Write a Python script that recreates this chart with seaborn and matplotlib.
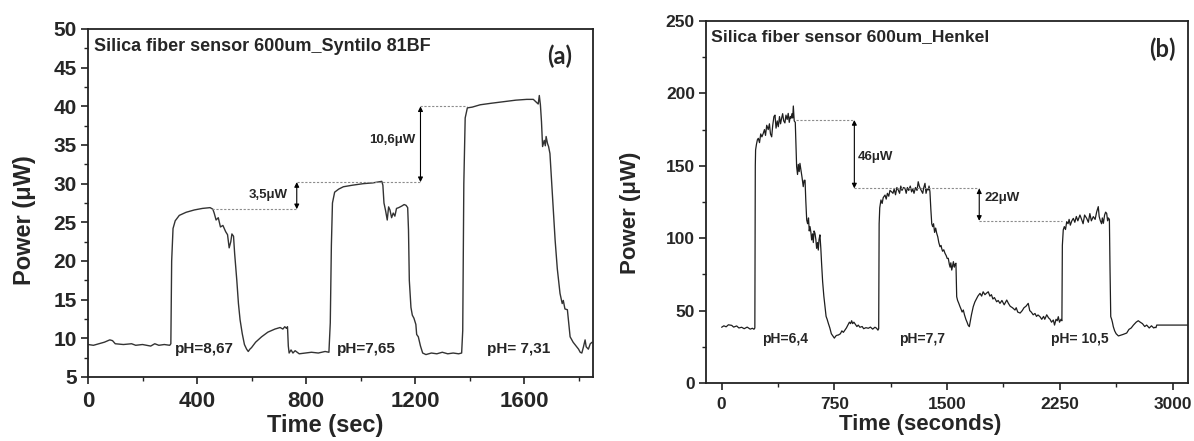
import matplotlib
matplotlib.use('Agg')
import matplotlib.pyplot as plt
from matplotlib import font_manager
from matplotlib.ticker import MultipleLocator
import pandas as pd
import seaborn as sns

# Panel (a): Syntilo 81BF, time (sec) vs power (uW)
time_a = [0, 20, 40, 60, 80, 90, 100, 130, 160, 175, 200, 230, 245, 260, 280, 300, 304,
          307, 312, 320, 335, 360, 390, 420, 448, 458, 463, 470, 478, 486, 495, 505, 512,
          518, 524, 528, 534, 538, 546, 552, 558, 566, 574, 582, 588, 594, 600, 615, 637,
          660, 686, 705, 715, 722, 728, 732, 735, 738, 745, 752, 760, 775, 796, 820, 845,
          870, 884, 889, 893, 897, 905, 920, 937, 970, 1010, 1045, 1078, 1082, 1086, 1092,
          1098, 1103, 1108, 1114, 1120, 1126, 1132, 1140, 1151, 1160, 1167, 1173, 1176,
          1179, 1185, 1190, 1196, 1203, 1206, 1212, 1220, 1228, 1240, 1260, 1280, 1300,
          1320, 1340, 1360, 1371, 1375, 1379, 1384, 1392, 1410, 1439, 1480, 1524, 1570,
          1610, 1634, 1646, 1652, 1656, 1660, 1664, 1668, 1674, 1678, 1681, 1686, 1690,
          1695, 1705, 1714, 1722, 1732, 1740, 1744, 1750, 1759, 1764, 1769, 1780, 1793,
          1800, 1806, 1812, 1818, 1824, 1828, 1836, 1843, 1850]
power_a = [9.2, 9.1, 9.3, 9.5, 9.8, 9.7, 9.3, 9.2, 9.3, 9.1, 9.2, 9.0, 9.3, 9.1, 9.2, 9.1, 9.3,
           20.0, 24.2, 25.2, 25.9, 26.3, 26.6, 26.8, 26.9, 26.7, 26.2, 25.3, 25.6, 24.4, 24.6,
           23.8, 23.4, 21.7, 22.5, 23.5, 23.2, 21.0, 17.5, 14.5, 12.4, 10.6, 9.2, 8.6, 8.3,
           8.6, 8.8, 9.5, 10.2, 10.8, 11.2, 11.4, 11.2, 11.5, 11.3, 11.5, 9.0, 8.1, 8.5, 8.1,
           8.4, 8.0, 8.1, 8.2, 8.1, 8.3, 8.2, 12.0, 22.0, 27.5, 28.9, 29.3, 29.6, 29.8, 30.0,
           30.1, 30.3, 29.8, 27.5, 26.5, 25.3, 27.0, 26.6, 25.6, 26.2, 25.8, 26.8, 26.9, 27.1,
           27.3, 27.2, 26.9, 24.0, 17.5, 14.0, 13.0, 12.6, 11.8, 10.5, 10.2, 9.0, 8.1, 7.9,
           8.1, 8.0, 8.2, 8.0, 8.1, 8.0, 8.1, 11.0, 30.0, 38.5, 39.8, 39.9, 40.2, 40.4, 40.6,
           40.8, 40.9, 40.9, 40.5, 40.3, 41.4, 40.2, 38.0, 34.8, 35.6, 34.9, 36.1, 35.2, 34.8,
           33.9, 28.0, 22.7, 19.0, 15.8, 14.5, 14.9, 13.8, 13.7, 12.0, 10.2, 9.5, 8.9, 8.6,
           8.2, 8.1, 8.9, 9.8, 8.9, 8.6, 9.3, 9.5]

# Panel (b): Henkel, time (seconds) vs power (uW)
time_b = [0, 15, 30, 45, 67, 80, 100, 115, 133, 150, 170, 190, 205, 215, 221, 224, 226, 232,
          238, 244, 252, 260, 268, 277, 285, 292, 300, 310, 318, 325, 333, 340, 348, 355,
          362, 370, 377, 385, 392, 399, 406, 413, 421, 428, 436, 443, 450, 457, 461, 468,
          473, 477, 480, 483, 490, 499, 505, 510, 516, 521, 528, 535, 543, 549, 555, 560,
          566, 572, 578, 583, 588, 594, 599, 605, 610, 615, 621, 627, 632, 638, 643, 648,
          654, 660, 665, 672, 680, 688, 695, 702, 710, 720, 730, 743, 750, 760, 768, 776,
          790, 800, 810, 821, 830, 840, 850, 858, 865, 872, 880, 890, 900, 909, 920, 935,
          945, 960, 976, 990, 1005, 1020, 1031, 1040, 1045, 1048, 1052, 1060, 1068, 1075,
          1087, 1095, 1103, 1112, 1120, 1131, 1140, 1148, 1157, 1166, 1175, 1184, 1192,
          1200, 1210, 1220, 1228, 1236, 1245, 1255, 1264, 1272, 1280, 1290, 1300, 1308,
          1315, 1323, 1331, 1338, 1345, 1353, 1360, 1367, 1375, 1380, 1386, 1392, 1398,
          1404, 1410, 1417, 1424, 1431, 1438, 1445, 1453, 1460, 1464, 1470, 1478, 1486,
          1494, 1501, 1508, 1515, 1520, 1525, 1531, 1537, 1542, 1548, 1553, 1559, 1562,
          1564, 1570, 1578, 1585, 1593, 1600, 1608, 1616, 1625, 1633, 1640, 1648, 1655,
          1662, 1668, 1674, 1685, 1695, 1705, 1719, 1730, 1740, 1752, 1762, 1774, 1785,
          1795, 1805, 1815, 1830, 1840, 1852, 1865, 1880, 1897, 1908, 1920, 1935, 1952,
          1960, 1970, 1986, 2000, 2012, 2025, 2040, 2050, 2060, 2073, 2085, 2095, 2105,
          2118, 2130, 2142, 2150, 2163, 2175, 2185, 2195, 2207, 2215, 2225, 2233, 2240,
          2248, 2258, 2264, 2267, 2273, 2280, 2288, 2296, 2305, 2312, 2320, 2330, 2340,
          2350, 2360, 2370, 2384, 2395, 2405, 2415, 2429, 2440, 2450, 2460, 2473, 2485,
          2495, 2506, 2512, 2520, 2528, 2533, 2540, 2548, 2555, 2562, 2568, 2573, 2580,
          2584, 2589, 2595, 2600, 2606, 2615, 2625, 2640, 2655, 2670, 2695, 2710, 2725,
          2740, 2758, 2772, 2785, 2800, 2815, 2828, 2845, 2860, 2875, 2884, 2890, 2895, 3100]
power_b = [38.5, 39.5, 38.8, 40.2, 39.8, 38.6, 39.4, 38.0, 38.5, 37.5, 38.6, 37.2, 37.8, 37.1,
           38.0, 150, 161, 165, 168, 169, 166, 172, 170, 172.4, 175, 171, 178, 175, 179, 172,
           170, 178, 184, 185, 176, 181, 177, 184, 179, 182.8, 186, 181, 179.6, 185, 182,
           186.2, 180, 184, 182.8, 186, 183, 191.3, 186, 181, 180, 149.4, 144, 151, 146,
           151.7, 147, 142, 135.6, 140, 140, 126, 112.6, 110, 114, 105, 108, 104, 98.8, 103,
           97, 105, 103.4, 99, 93, 97, 91.8, 99, 102.3, 93, 82.7, 70, 60, 52.7, 46, 44, 41.2,
           38, 34, 32, 31, 32.5, 33, 33.1, 34, 36, 35, 36.6, 38, 40, 42, 41, 43, 41, 42, 40.5,
           39, 40, 38.5, 39, 37.5, 38.2, 37.8, 38.6, 37.2, 38.5, 37.8, 36.5, 37.5, 110, 121,
           126.4, 124, 128, 129.8, 127, 131, 129, 133, 132, 131, 134, 130, 135, 133.3, 131,
           136, 133, 135, 134.5, 131, 135, 133, 136, 132, 134, 131, 135, 133, 139, 136, 134,
           132.4, 131, 135, 137.9, 131, 134, 133.3, 136, 132, 120, 110, 108, 110, 104, 107,
           103.4, 101, 97, 94.1, 95, 93, 91, 92, 89.6, 88, 86, 86.1, 82, 80, 83, 78, 81, 83.8,
           80, 82, 82.7, 70, 59.6, 57, 55, 53, 51, 49, 50.4, 47, 44, 42, 40, 38.9, 43, 47, 50,
           52.7, 56, 58, 60, 61.9, 60, 63, 61, 62, 63, 60, 61, 58, 59, 56.1, 57, 55, 57, 54,
           57.3, 55, 53, 52, 50.4, 52, 49, 48.3, 50, 52, 53, 55, 50, 49, 47.1, 48, 46, 47,
           45.8, 44, 46, 44, 47.1, 45, 44, 42, 43.5, 40, 44, 43, 45.8, 42, 44, 43, 95, 105.7,
           108, 106, 111.4, 110, 113, 109, 112, 113.7, 111, 115, 112, 116, 113, 110, 116,
           113.7, 111, 117, 112, 114.9, 113, 118, 121.8, 115, 112, 110, 114, 110.3, 116, 118,
           117.1, 112, 114, 113, 80, 45.8, 44, 42, 38.9, 36, 34, 32.5, 33, 33.5, 34.5, 37, 38,
           40, 42, 43, 42, 41, 39, 40, 38, 39.5, 38, 38.5, 38.2, 40, 40]

# step annotations: (x of arrow, start level, end level, label, label x, label y)
steps_a = [(766, 26.7, 30.2, '3,5μW', 734, 28.5), (1220, 30.2, 40.0, '10,6μW', 1200, 35.6)]
steps_b = [(883, 181.6, 134.4, '46μW', 907, 156.0), (1714, 134.4, 112.0, '22μW', 1746, 127.5)]
# dotted guide lines: (x start, x end, level)
guides_a = [(456, 766, 26.7), (766, 1222, 30.2), (1220, 1390, 40.0)]
guides_b = [(495, 883, 181.6), (883, 1714, 134.4), (1714, 2263, 112.0)]
ph_a = [(426, 'pH=8,67'), (1023, 'pH=7,65'), (1580, 'pH= 7,31')]
ph_b = [(421, 'pH=6,4'), (1336, 'pH=7,7'), (2381, 'pH= 10,5')]

sns.set_style('ticks')
names = {f.name for f in font_manager.fontManager.ttflist}
narrow = 'Liberation Sans Narrow' if 'Liberation Sans Narrow' in names else 'Liberation Sans'
plt.rcParams['font.family'] = ['Liberation Sans', 'DejaVu Sans']

fig = plt.figure(figsize=(11.94, 4.41), dpi=100)
ax1 = fig.add_axes([88 / 1194, 1 - 377 / 441, 505 / 1194, 348 / 441])
ax2 = fig.add_axes([706 / 1194, 1 - 383 / 441, 482 / 1194, 362 / 441])

df_a = pd.DataFrame({'t': time_a, 'p': power_a})
df_b = pd.DataFrame({'t': time_b, 'p': power_b})
sns.lineplot(data=df_a, x='t', y='p', ax=ax1, color='#333333', linewidth=1.0,
             estimator=None, sort=False)
sns.lineplot(data=df_b, x='t', y='p', ax=ax2, color='#1e1e1e', linewidth=0.9,
             estimator=None, sort=False)

ax1.set_xlim(0, 1853)
ax1.set_ylim(5, 50)
ax2.set_xlim(-104, 3103)
ax2.set_ylim(0, 250)
ax1.xaxis.set_major_locator(MultipleLocator(400))
ax1.xaxis.set_minor_locator(MultipleLocator(200))
ax1.yaxis.set_major_locator(MultipleLocator(5))
ax1.yaxis.set_minor_locator(MultipleLocator(2.5))
ax2.xaxis.set_major_locator(MultipleLocator(750))
ax2.xaxis.set_minor_locator(MultipleLocator(375))
ax2.yaxis.set_major_locator(MultipleLocator(50))
ax2.yaxis.set_minor_locator(MultipleLocator(25))

for ax, xs, ys in [(ax1, 16, 15), (ax2, 12.5, 12.5)]:
    for s in ax.spines.values():
        s.set_visible(True)
        s.set_linewidth(1.3)
        s.set_color('#222222')
    ax.tick_params(which='major', direction='out', length=5, width=1.2, color='#222222')
    ax.tick_params(which='minor', direction='out', length=3, width=1.0, color='#222222')
    ax.tick_params(axis='x', which='major', labelsize=xs, pad=5)
    ax.tick_params(axis='y', which='major', labelsize=ys, pad=3)
    for lab in ax.get_xticklabels() + ax.get_yticklabels():
        lab.set_fontweight('bold')
        lab.set_family(narrow)

ax1.set_xlabel('Time (sec)', fontsize=17, fontweight='bold', family=narrow)
ax1.set_ylabel('Power (μW)', fontsize=17, fontweight='bold', family=narrow)
ax1.xaxis.set_label_coords(0.469, -0.105)
ax1.yaxis.set_label_coords(-0.103, 0.45)
ax2.set_xlabel('Time (seconds)', fontsize=16, fontweight='bold', family=narrow)
ax2.set_ylabel('Power (μW)', fontsize=16, fontweight='bold', family=narrow)
ax2.xaxis.set_label_coords(0.444, -0.085)
ax2.yaxis.set_label_coords(-0.135, 0.47)

ax1.text(0.012, 0.951, 'Silica fiber sensor 600um_Syntilo 81BF', transform=ax1.transAxes,
         fontsize=13, fontweight='bold', va='center', ha='left')
ax2.text(0.01, 0.958, 'Silica fiber sensor 600um_Henkel', transform=ax2.transAxes,
         fontsize=12.6, fontweight='bold', va='center', ha='left')
ax1.text(0.934, 0.922, '(a)', transform=ax1.transAxes, fontsize=17, fontweight='bold',
         family=['Lato', 'DejaVu Sans'], ha='center', va='center')
ax2.text(0.946, 0.921, '(b)', transform=ax2.transAxes, fontsize=17, fontweight='bold',
         family=['Lato', 'DejaVu Sans'], ha='center', va='center')

for ax, guides in [(ax1, guides_a), (ax2, guides_b)]:
    for x0, x1, lev in guides:
        ax.hlines(lev, x0, x1, colors='#8c8c8c', linestyles=(0, (2, 1.5)), linewidth=0.8)

for ax, steps, ha in [(ax1, steps_a, 'right'), (ax2, steps_b, 'left')]:
    for x, y0, y1, lab, lx, ly in steps:
        ax.annotate('', xy=(x, y1), xytext=(x, y0),
                    arrowprops=dict(arrowstyle='<|-|>', color='black', lw=0.8,
                                    mutation_scale=7, shrinkA=0, shrinkB=0))
        ax.text(lx, ly, lab, fontsize=9.5, fontweight='bold', ha=ha, va='center')

for x, lab in ph_a:
    ax1.text(x, 8.6, lab, fontsize=11, fontweight='bold', ha='center', va='center',
             family=narrow)
for x, lab in ph_b:
    ax2.text(x, 30.5, lab, fontsize=10, fontweight='bold', ha='center', va='center',
             family=narrow)

fig.savefig('out.png', dpi=100)
